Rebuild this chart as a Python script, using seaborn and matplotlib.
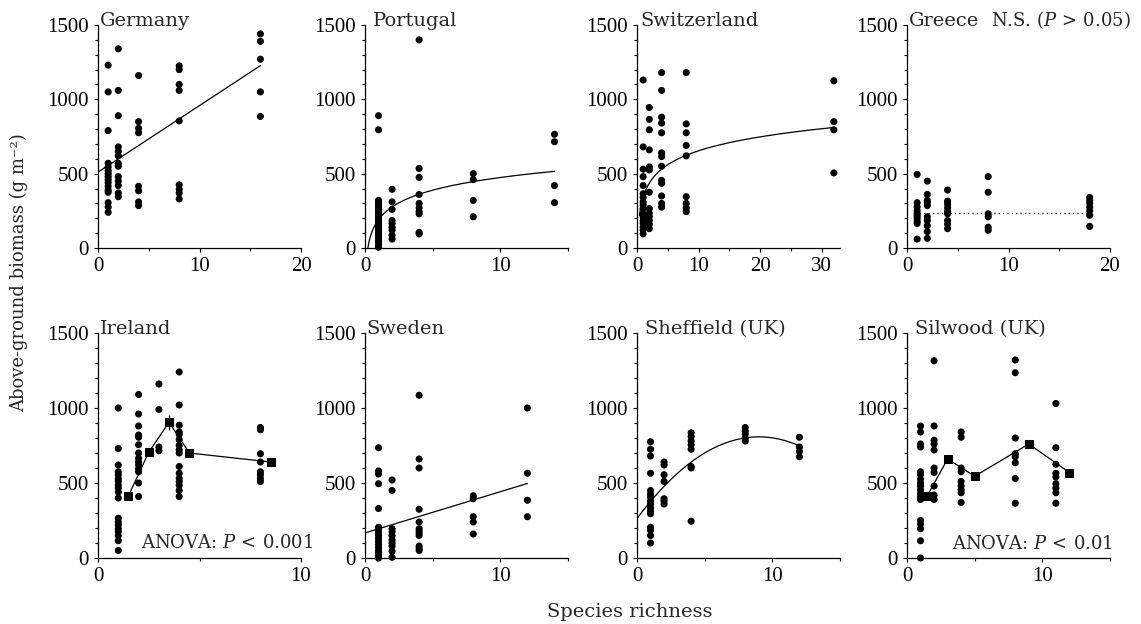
import numpy as np
import pandas as pd
import matplotlib
matplotlib.use("Agg")
import matplotlib.pyplot as plt
import seaborn as sns
from matplotlib.ticker import MultipleLocator

# ---------------- data ----------------
germany = {1: [1230, 1050, 790, 570, 545, 520, 500, 480, 460, 440, 415, 390, 375, 305, 275, 240],
           2: [1340, 1060, 890, 680, 650, 620, 570, 550, 480, 450, 420, 370, 345],
           4: [1160, 850, 805, 775, 415, 385, 310, 285],
           8: [1225, 1200, 1100, 1060, 855, 425, 395, 370, 330],
           16: [1440, 1390, 1270, 1050, 885]}
portugal = {1: [890, 795, 320, 305, 290, 275, 260, 245, 230, 215, 200, 185, 170, 155, 140,
                125, 110, 95, 80, 65, 50, 35, 20, 5],
            2: [395, 310, 260, 185, 165, 140, 120, 85, 60],
            4: [1400, 535, 475, 360, 300, 270, 245, 230, 105, 95],
            8: [500, 460, 320, 210],
            14: [765, 715, 420, 305]}
switzerland = {1: [1130, 680, 530, 480, 420, 365, 340, 310, 290, 265, 230, 210, 185, 165, 140, 120, 95],
               2: [945, 865, 795, 660, 545, 525, 375, 265, 235, 210, 185, 160, 130],
               4: [1180, 1060, 880, 840, 775, 640, 615, 550, 455, 435, 350, 300, 275],
               8: [1180, 835, 775, 690, 620, 345, 300, 270, 245],
               32: [1125, 850, 795, 505]}
greece = {1: [495, 305, 275, 250, 230, 215, 200, 180, 165, 60],
          2: [450, 360, 320, 305, 285, 210, 185, 150, 110, 65],
          4: [390, 315, 295, 270, 245, 230, 185, 160, 130],
          8: [480, 375, 230, 210, 140, 120],
          18: [340, 320, 300, 275, 250, 220, 145]}
ireland = {1: [1000, 730, 620, 575, 555, 530, 510, 485, 465, 440, 400, 265, 240, 220, 195, 175, 150, 115, 50],
           2: [1090, 960, 880, 820, 805, 755, 700, 665, 640, 620, 595, 575, 500, 410],
           3: [1160, 990, 740, 715],
           4: [1240, 1020, 885, 840, 825, 790, 750, 720, 700, 610, 565, 530, 510, 485, 450, 410],
           8: [870, 855, 695, 640, 575, 555, 530, 510]}
sweden = {1: [735, 580, 560, 495, 330, 205, 190, 170, 150, 130, 110, 90, 70, 50, 35, 15, 0],
          2: [520, 450, 195, 175, 150, 120, 100, 80, 45, 5],
          4: [1085, 660, 600, 325, 240, 195, 180, 165, 150, 80, 65, 50],
          8: [415, 395, 275, 240, 160],
          12: [1000, 565, 385, 275]}
sheffield = {1: [775, 725, 680, 565, 450, 425, 405, 380, 360, 335, 315, 295, 205, 185, 150, 100],
             2: [640, 620, 555, 510, 395, 380, 360],
             4: [835, 810, 780, 755, 725, 610, 600, 245],
             8: [870, 845, 825, 800, 780],
             12: [805, 740, 710, 675]}
silwood = {1: [880, 840, 760, 740, 575, 555, 525, 500, 480, 455, 430, 410, 390, 250, 225, 195, 115, 0],
           2: [1315, 880, 785, 760, 720, 600, 570, 480, 420, 390],
           4: [840, 805, 600, 575, 510, 480, 455, 435, 370],
           8: [1320, 1235, 800, 695, 675, 635, 530, 365],
           11: [1030, 735, 625, 565, 540, 495, 465, 435, 365]}

# fitted relationships (coefficients)
germany_linear = (510, 44.8)          # intercept, slope
portugal_log = (191, 123)             # a + b ln(x)
switzerland_log = (343, 135)
greece_mean = 236
sweden_linear = (167, 27.5)
sheffield_quad = (263, 121, -6.72)    # c + b x + a x^2

# ANOVA means (plotted as squares)
ireland_mean_x = [1.5, 2.5, 3.5, 4.5, 8.5]
ireland_mean_y = [415, 705, 905, 700, 640]
ireland_mean_se = [15, 15, 50, 15, 15]
silwood_mean_x = [1.5, 3, 5, 9, 12]
silwood_mean_y = [415, 660, 545, 760, 570]
silwood_mean_se = [12, 15, 12, 20, 12]

panels = ["Germany", "Portugal", "Switzerland", "Greece",
          "Ireland", "Sweden", "Sheffield (UK)", "Silwood (UK)"]
panel_data = [germany, portugal, switzerland, greece, ireland, sweden, sheffield, silwood]
x_limits = [20, 15, 33, 20, 10, 15, 15, 15]

# ---------------- style ----------------
sns.set_style("ticks")
plt.rcParams['font.family'] = ['DejaVu Serif']
plt.rcParams['mathtext.fontset'] = 'dejavuserif'
plt.rcParams['font.size'] = 14
TICKFONT = "Liberation Serif"

W, H = 1141, 624
fig = plt.figure(figsize=(W / 100, H / 100), dpi=100)
lefts = [98, 365, 637, 907]
width = 203
rows = [(25, 248), (333, 558)]
label_dx = [2, 8, 3, 2, 2, 1, 8, 8]


def to_df(d):
    xs, ys = [], []
    for k, vals in d.items():
        xs += [k] * len(vals)
        ys += vals
    return pd.DataFrame({"richness": xs, "biomass": ys})


axes = []
for i, (name, d, xmax) in enumerate(zip(panels, panel_data, x_limits)):
    r, c = divmod(i, 4)
    top, bot = rows[r]
    ax = fig.add_axes([lefts[c] / W, 1 - bot / H, width / W, (bot - top) / H])
    axes.append(ax)
    df = to_df(d)
    sns.scatterplot(data=df, x="richness", y="biomass", ax=ax, color="black",
                    s=26, edgecolor="none", linewidth=0, clip_on=False, zorder=3)
    ax.set_xlim(0, xmax)
    ax.set_ylim(0, 1500)
    ax.xaxis.set_major_locator(MultipleLocator(10))
    ax.xaxis.set_minor_locator(MultipleLocator(5))
    ax.yaxis.set_major_locator(MultipleLocator(500))
    ax.yaxis.set_minor_locator(MultipleLocator(100))
    ax.tick_params(which="major", direction="out", length=3.2, width=0.8,
                   labelsize=15, pad=3.5, color="black", labelcolor="black")
    ax.tick_params(which="minor", direction="out", length=2.2, width=0.8, color="black")
    for lab in ax.get_xticklabels() + ax.get_yticklabels():
        lab.set_fontfamily(TICKFONT)
    ax.set_xlabel("")
    ax.set_ylabel("")
    sns.despine(ax=ax)
    for sp in ("left", "bottom"):
        ax.spines[sp].set_color("black")
        ax.spines[sp].set_linewidth(0.9)
    ax.text(label_dx[i] / width, 0.995, name, transform=ax.transAxes,
            ha="left", va="baseline", fontsize=14)

line_kw = dict(color="black", linewidth=0.9, estimator=None, sort=False)

# Germany linear
xg = np.linspace(0, 16, 50)
sns.lineplot(x=xg, y=germany_linear[0] + germany_linear[1] * xg, ax=axes[0], **line_kw)
# Portugal log
xp = np.linspace(0.21, 14, 200)
sns.lineplot(x=xp, y=portugal_log[0] + portugal_log[1] * np.log(xp), ax=axes[1], **line_kw)
# Switzerland log
xs_ = np.linspace(0.4, 32, 200)
sns.lineplot(x=xs_, y=switzerland_log[0] + switzerland_log[1] * np.log(xs_), ax=axes[2], **line_kw)
# Greece mean (N.S.)
sns.lineplot(x=[0.8, 18], y=[greece_mean, greece_mean], ax=axes[3],
             color="black", linewidth=0.9, linestyle=(0, (1, 2.5)), estimator=None)
axes[3].text(1.10, 0.995, r"N.S. ($P\,{>}\,$0.05)", transform=axes[3].transAxes,
             ha="right", va="baseline", fontsize=13)
# Ireland means
axes[4].errorbar(ireland_mean_x, ireland_mean_y, yerr=ireland_mean_se, fmt="none",
                 ecolor="black", elinewidth=0.9, capsize=0, zorder=4)
sns.lineplot(x=ireland_mean_x, y=ireland_mean_y, ax=axes[4], marker="s", markersize=5.5,
             markeredgecolor="black", markerfacecolor="black", zorder=5, **line_kw)
axes[4].text(1.06, 0.045, r"ANOVA: $P\,{<}\,$0.001", transform=axes[4].transAxes,
             ha="right", va="baseline", fontsize=13)
# Sweden linear
xw = np.linspace(0, 12, 50)
sns.lineplot(x=xw, y=sweden_linear[0] + sweden_linear[1] * xw, ax=axes[5], **line_kw)
# Sheffield quadratic
xh = np.linspace(0, 12, 200)
sns.lineplot(x=xh, y=sheffield_quad[0] + sheffield_quad[1] * xh + sheffield_quad[2] * xh ** 2,
             ax=axes[6], **line_kw)
# Silwood means
axes[7].errorbar(silwood_mean_x, silwood_mean_y, yerr=silwood_mean_se, fmt="none",
                 ecolor="black", elinewidth=0.9, capsize=0, zorder=4)
sns.lineplot(x=silwood_mean_x, y=silwood_mean_y, ax=axes[7], marker="s", markersize=5.5,
             markeredgecolor="black", markerfacecolor="black", zorder=5, **line_kw)
axes[7].text(1.015, 0.04, r"ANOVA: $P\,{<}\,$0.01", transform=axes[7].transAxes,
             ha="right", va="baseline", fontsize=13)

fig.text(19 / W, 1 - 273 / H, "Above-ground biomass (g m\u207b\u00b2)", rotation=90,
         ha="center", va="center", fontsize=13)
fig.text(630 / W, 1 - 612 / H, "Species richness", ha="center", va="center", fontsize=14)

fig.savefig("out.png", dpi=100)
